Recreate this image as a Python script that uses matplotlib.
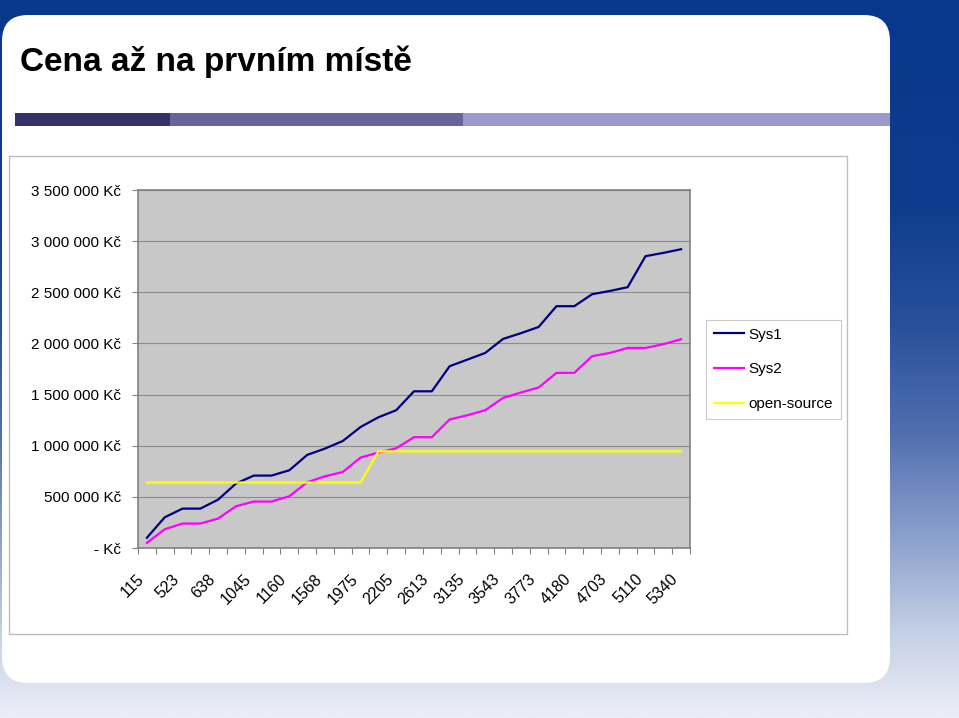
import numpy as np
import matplotlib
matplotlib.use("Agg")
import matplotlib.pyplot as plt
from matplotlib.patches import FancyBboxPatch, Rectangle
from matplotlib.colors import LinearSegmentedColormap

plt.rcParams['font.family'] = ['Liberation Sans', 'DejaVu Sans']

# data, categories every second one labelled
categories = [115, 408, 523, 580, 638, 930, 1045, 1103, 1160, 1453, 1568, 1860, 1975, 2090, 2205, 2498,
              2613, 2905, 3135, 3428, 3543, 3658, 3773, 4065, 4180, 4588, 4703, 4995, 5110, 5225, 5340]
sys1 = [100000, 300000, 385000, 385000, 473000, 630000, 708000, 708000, 760000, 910000, 972000,
        1046000, 1183000, 1278000, 1347000, 1532000, 1532000, 1777000, 1842000, 1907000, 2044000,
        2100000, 2161000, 2364000, 2364000, 2481000, 2513000, 2550000, 2853000, 2885000, 2921000]
sys2 = [50000, 183000, 239000, 239000, 288000, 408000, 454000, 454000, 506000, 643000, 701000,
        743000, 884000, 933000, 975000, 1083000, 1083000, 1256000, 1298000, 1347000, 1467000,
        1520000, 1569000, 1712000, 1712000, 1875000, 1907000, 1956000, 1956000, 1992000, 2041000]
open_source = [640000] * 13 + [945000] * 18
series_names = ["Sys1", "Sys2", "open-source"]
series_colors = ["#000080", "#FF00FF", "#FFFF00"]

W, H = 959, 718
fig = plt.figure(figsize=(W / 100.0, H / 100.0), dpi=100)

# slide background (pixel coordinates)
bg = fig.add_axes([0, 0, 1, 1])
stops = [(0.0, (8 / 255., 56 / 255., 140 / 255.)),
         (0.28, (14 / 255., 60 / 255., 140 / 255.)),
         (0.45, (40 / 255., 80 / 255., 155 / 255.)),
         (0.6, (80 / 255., 110 / 255., 175 / 255.)),
         (0.75, (140 / 255., 160 / 255., 205 / 255.)),
         (0.88, (195 / 255., 207 / 255., 228 / 255.)),
         (1.0, (235 / 255., 238 / 255., 245 / 255.))]
cmap = LinearSegmentedColormap.from_list("slide", stops)
grad = np.linspace(0, 1, 256).reshape(-1, 1)
bg.imshow(grad, cmap=cmap, extent=[0, W, H, 0], aspect='auto')
bg.set_xlim(0, W)
bg.set_ylim(H, 0)
bg.axis('off')

card = FancyBboxPatch((2, 15), 888, 668, boxstyle="round,pad=0,rounding_size=26",
                      fc="white", ec="none")
bg.add_patch(card)

bg.text(20, 62, "Cena až na prvním místě", fontsize=24, fontweight='bold', va='center', ha='left')

# bar under the title
bg.add_patch(Rectangle((15, 113), 155, 13, fc="#333366", ec="none"))
bg.add_patch(Rectangle((170, 113), 293, 13, fc="#666699", ec="none"))
bg.add_patch(Rectangle((463, 113), 427, 13, fc="#9999CC", ec="none"))

# chart frame
bg.add_patch(Rectangle((9, 156), 838, 478, fc="white", ec="#BDBDBD", lw=1))

# chart
ax = fig.add_axes([138.0 / W, (H - 548.0) / H, 552.0 / W, 358.0 / H])
ax.set_facecolor("#C8C8C8")
x = np.arange(len(categories))
for vals, name, col in zip([sys1, sys2, open_source], series_names, series_colors):
    ax.plot(x, vals, color=col, lw=1.6, label=name, zorder=3)

ax.set_xlim(-0.5, len(categories) - 0.5)
ax.set_ylim(0, 3500000)

yticks = np.arange(0, 3500001, 500000)
ax.set_yticks(yticks)
ylabels = ["- Kč" if v == 0 else "{:,.0f} Kč".format(v).replace(",", " ") for v in yticks]
ax.set_yticklabels(ylabels, fontsize=11)
ax.tick_params(axis='y', length=4, width=0.8, color="#808080", pad=8)
ax.yaxis.grid(True, color="#8C8C8C", lw=0.8)
ax.set_axisbelow(True)

ax.set_xticks(x[::2])
ax.set_xticklabels([str(c) for c in categories[::2]], rotation=45, ha='right', va='top', fontsize=11.5)
ax.tick_params(axis='x', length=0, pad=17)
ax.set_xticks(np.arange(-0.5, len(categories)), minor=True)
ax.tick_params(axis='x', which='minor', length=4, width=0.8, color="#808080")

for s in ax.spines.values():
    s.set_color("#808080")
    s.set_linewidth(1.2)

leg = ax.legend(loc='upper left', bbox_to_anchor=(706.0 / W, 1 - 320.0 / H), bbox_transform=fig.transFigure,
                fancybox=False, edgecolor="#BDBDBD", fontsize=11, handlelength=2.0, handletextpad=0.3,
                labelspacing=1.35, borderpad=0.5, borderaxespad=0)
leg.get_frame().set_linewidth(0.8)

fig.savefig("out.png", dpi=100)
